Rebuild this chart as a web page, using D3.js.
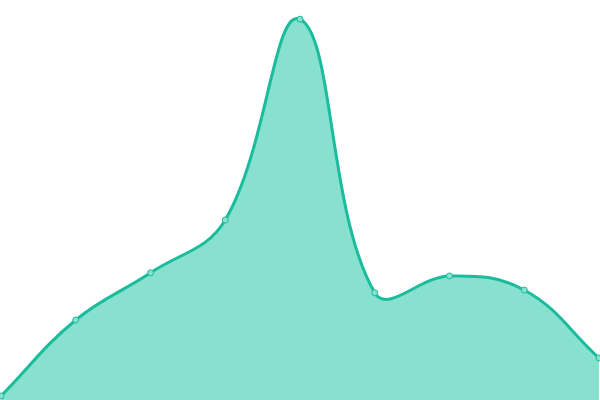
<!DOCTYPE html>
<html>
<head>
<meta charset="utf-8">
<script src="https://cdn.jsdelivr.net/npm/d3@7"></script>
<style>
  html,body{margin:0;padding:0;background:#fff;}
  svg{display:block;}
</style>
</head>
<body>
<div id="chart"></div>
<script>
const categories = [0,1,2,3,4,5,6,7,8];
const values = [1, 20, 31.8, 45, 95.2, 26.8, 31, 27.5, 10.5];
const TENSION = 0.4;

// spline through the points, control points weighted by segment length
function splineCurve(context){
  let pts, line;
  return {
    areaStart(){ line=0; },
    areaEnd(){ line=NaN; },
    lineStart(){ pts=[]; },
    point(x,y){ pts.push([+x,+y]); },
    lineEnd(){
      const n=pts.length;
      if(!n){ line=1-line; return; }
      const cp=pts.map((p,i)=>{
        const a=pts[i-1]||p, b=pts[i+1]||p;
        const d01=Math.hypot(p[0]-a[0],p[1]-a[1]), d12=Math.hypot(b[0]-p[0],b[1]-p[1]);
        let s01=d01/(d01+d12), s12=d12/(d01+d12);
        if(isNaN(s01)) s01=0; if(isNaN(s12)) s12=0;
        const fa=TENSION*s01, fb=TENSION*s12;
        return {prev:[p[0]-fa*(b[0]-a[0]), p[1]-fa*(b[1]-a[1])],
                next:[p[0]+fb*(b[0]-a[0]), p[1]+fb*(b[1]-a[1])]};
      });
      if(line) context.lineTo(pts[0][0],pts[0][1]); else context.moveTo(pts[0][0],pts[0][1]);
      for(let i=1;i<n;i++){
        const c1=cp[i-1].next, c2=cp[i].prev;
        context.bezierCurveTo(c1[0],c1[1],c2[0],c2[1],pts[i][0],pts[i][1]);
      }
      if(line || (line!==0 && n===1)) context.closePath();
      line=1-line;
    }
  };
}

const W=600,H=400;
const x=d3.scalePoint().domain(categories).range([1,599]);
const y=d3.scaleLinear().domain([0,100]).range([400,0]);
const pts=categories.map((c,i)=>({c,v:values[i]}));

const svg=d3.select('#chart').append('svg').attr('width',W).attr('height',H);
svg.append('path').datum(pts)
  .attr('d',d3.area().x(d=>x(d.c)).y0(y(0)).y1(d=>y(d.v)).curve(splineCurve))
  .attr('fill','#88e0cf');
svg.append('path').datum(pts)
  .attr('d',d3.line().x(d=>x(d.c)).y(d=>y(d.v)).curve(splineCurve))
  .attr('fill','none').attr('stroke','#1abc9c').attr('stroke-width',3);
svg.append('g').selectAll('circle').data(pts).join('circle')
  .attr('cx',d=>x(d.c)).attr('cy',d=>y(d.v)).attr('r',3)
  .attr('fill','#88e0cf').attr('stroke','#1abc9c').attr('stroke-width',1);
</script>
</body>
</html>
